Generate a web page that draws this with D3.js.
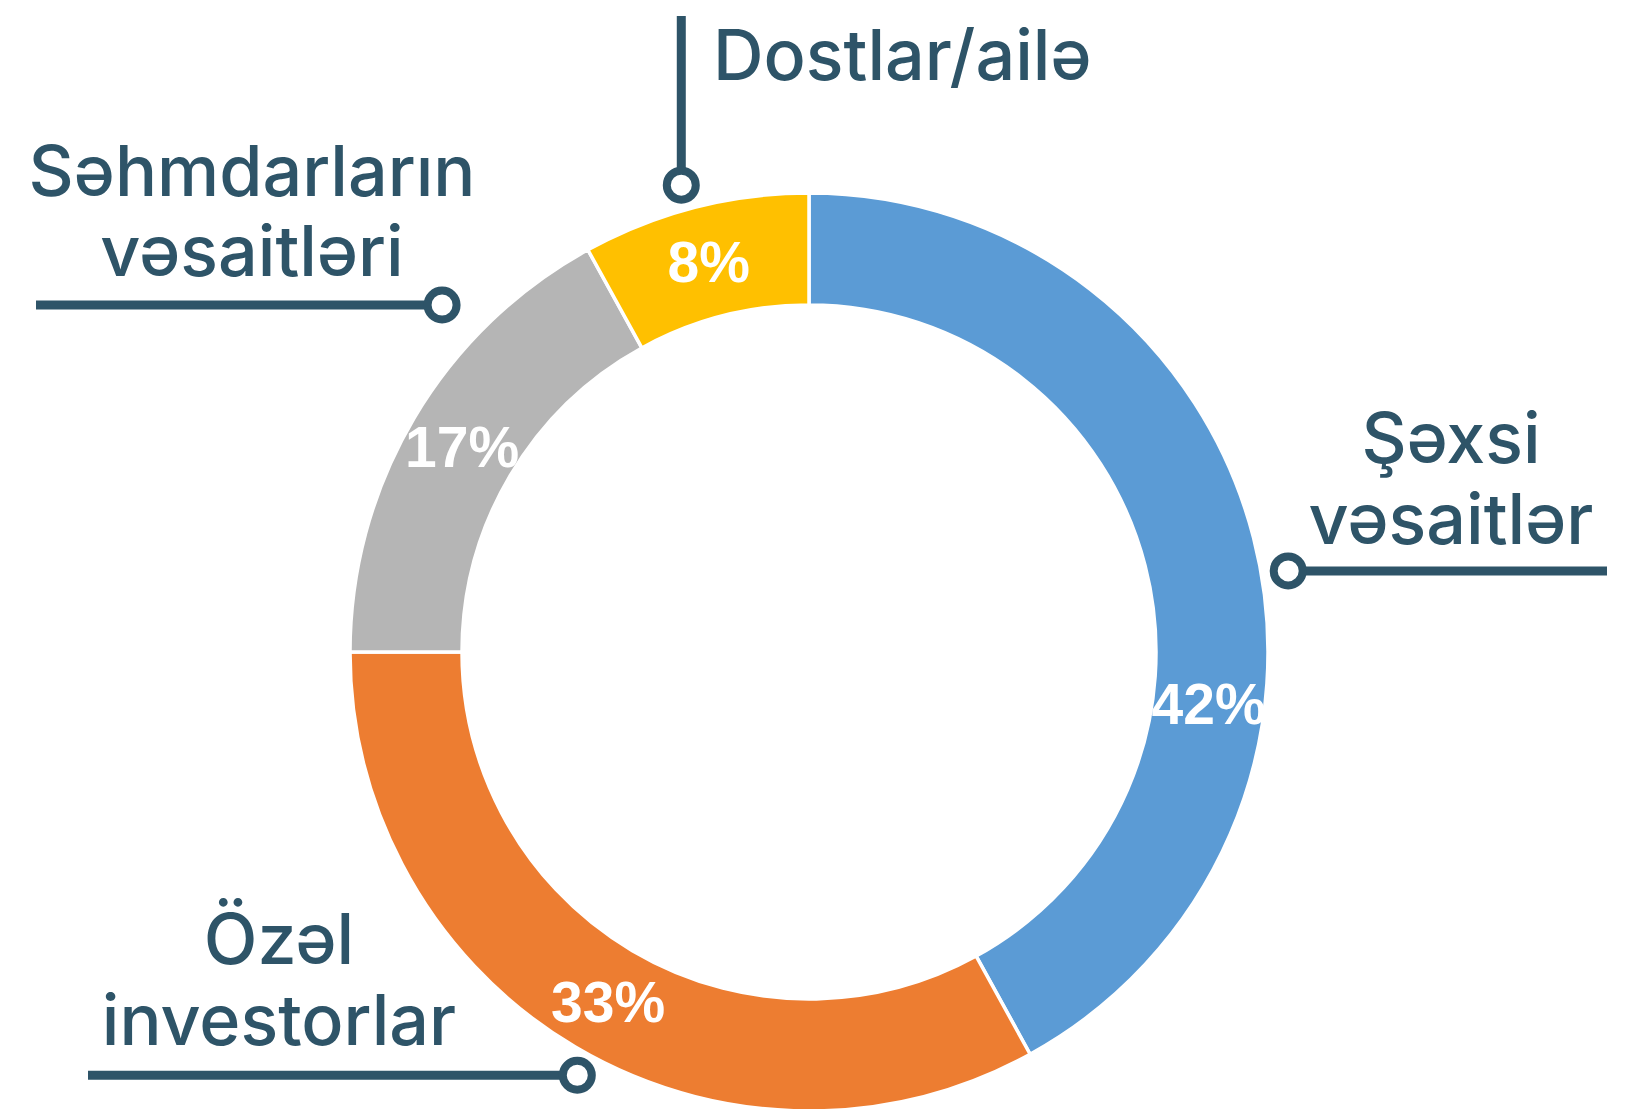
<!DOCTYPE html>
<html>
<head>
<meta charset="utf-8">
<script src="https://cdn.jsdelivr.net/npm/d3@7"></script>
<style>
    body { margin: 0; background: #ffffff; }
    svg { display: block; }
</style>
</head>
<body>
<script>
// chart data: categories, their shares and the label text
var categories = ["Şəxsi vəsaitlər", "Özəl investorlar",
                  "Səhmdarların vəsaitləri", "Dostlar/ailə"];
var shares = [42, 33, 17, 8];
var colors = ["#5b9bd5", "#ed7d31", "#b5b5b5", "#ffc000"];
var calloutLines = [["Şəxsi", "vəsaitlər"], ["Özəl", "investorlar"],
                    ["Səhmdarların", "vəsaitləri"], ["Dostlar/ailə"]];

var width = 1631,
    height = 1109,
    cx = 809,
    cy = 652,
    outerR = 459,
    innerR = 347;

var ink = "#2e5468";

var svg = d3.select("body").append("svg")
    .attr("width", width)
    .attr("height", height);

svg.append("rect")
    .attr("width", width)
    .attr("height", height)
    .attr("fill", "#ffffff");

var g = svg.append("g")
    .attr("transform", "translate(" + cx + "," + cy + ")");

var data = categories.map(function(c, i) {
    return {key: c, value: shares[i], color: colors[i], lines: calloutLines[i]};
});

// pie keeps the data order, starting at 12 o'clock clockwise
var pie = d3.pie()
    .sort(null)
    .value(function(d) { return d.value; });

var arc = d3.arc()
    .innerRadius(innerR)
    .outerRadius(outerR);

var arcs = pie(data);

g.selectAll("path.slice")
    .data(arcs)
    .enter()
    .append("path")
    .attr("class", "slice")
    .attr("d", arc)
    .attr("fill", function(d) { return d.data.color; })
    .attr("stroke", "#ffffff")
    .attr("stroke-width", 3.5);

// label angle tweaks (degrees) - labels moved off the centroid
var labelShift = {"Şəxsi vəsaitlər": 21.8, "Özəl investorlar": -0.7};

g.selectAll("text.pct")
    .data(arcs)
    .enter()
    .append("text")
    .attr("class", "pct")
    .attr("transform", function(d) {
        var mid = (d.startAngle + d.endAngle) / 2 +
            (labelShift[d.data.key] || 0) * Math.PI / 180;
        var p = d3.pointRadial(mid, (innerR + outerR) / 2);
        return "translate(" + p[0] + "," + p[1] + ")";
    })
    .attr("text-anchor", "middle")
    .attr("dy", "0.36em")
    .attr("font-family", "'Liberation Sans', Arial, sans-serif")
    .attr("font-weight", "bold")
    .attr("font-size", "57px")
    .attr("fill", "#ffffff")
    .text(function(d) { return d.data.value + "%"; });

// callouts: anchor circle (angle, radius), leader line and text placement
var callouts = {
    "Şəxsi vəsaitlər": {ang: 80.4, r: 486, line: [1607, 0], tx: 1451, ty: [463, 544]},
    "Özəl investorlar": {ang: 208.7, r: 482.5, line: [88, 0], tx: 279, ty: [964, 1045]},
    "Səhmdarların vəsaitləri": {ang: 313.4, r: 505, line: [36, 0], tx: 252, ty: [196, 276]},
    "Dostlar/ailə": {ang: 344.7, r: 484, line: [0, 16], tx: 713, ty: [80], anchor: "start"}
};

data.forEach(function(d) {
    var c = callouts[d.key];
    var p = d3.pointRadial(c.ang * Math.PI / 180, c.r);
    var x = cx + p[0], y = cy + p[1];

    // leader line: horizontal unless an x of 0 says vertical
    var x2 = c.line[0] ? c.line[0] : x,
        y2 = c.line[0] ? y : c.line[1];
    svg.append("line")
        .attr("x1", x).attr("y1", y)
        .attr("x2", x2).attr("y2", y2)
        .attr("stroke", ink)
        .attr("stroke-width", 9);

    svg.append("circle")
        .attr("cx", x).attr("cy", y)
        .attr("r", 14.5)
        .attr("fill", "#ffffff")
        .attr("stroke", ink)
        .attr("stroke-width", 8);

    var t = svg.append("text")
        .attr("text-anchor", c.anchor || "middle")
        .attr("font-family", "Inter, 'Noto Sans', sans-serif")
        .attr("font-weight", 500)
        .attr("font-size", "70px")
        .attr("fill", ink);
    d.lines.forEach(function(line, i) {
        t.append("tspan")
            .attr("x", c.tx)
            .attr("y", c.ty[i])
            .text(line);
    });
});
</script>
</body>
</html>
